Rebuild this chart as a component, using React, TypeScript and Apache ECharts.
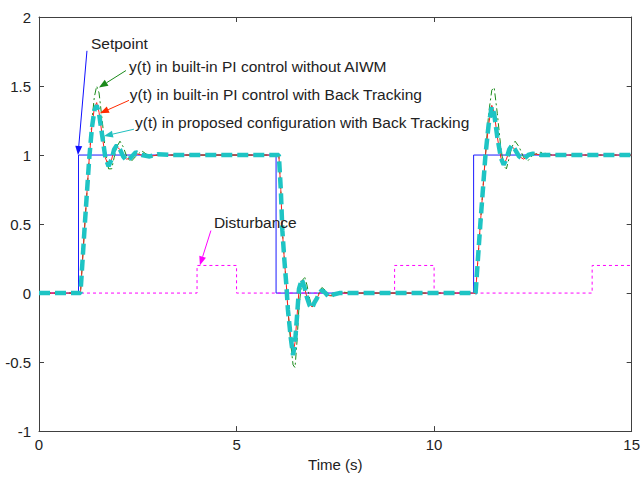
import React, { useEffect, useRef } from "react";
import * as echarts from "echarts";

// Reference signals
const setpointT = [0, 1, 1, 6, 6, 11, 11, 15];
const setpointY = [0, 0, 1, 1, 0, 0, 1, 1];

const disturbanceT = [0, 4, 4, 5, 5, 9, 9, 10, 10, 14, 14, 15];
const disturbanceY = [0, 0, 0.2, 0.2, 0, 0, 0.2, 0.2, 0, 0, 0.2, 0.2];

// Shared time grid for the three responses
const respT = [
  0, 1.05, 1.16, 1.27, 1.34, 1.4, 1.46, 1.52, 1.6, 1.68, 1.76, 1.84, 1.9, 1.97, 2.05, 2.13, 2.22, 2.32, 2.45,
  2.6, 2.8, 3.0, 3.4, 6.07, 6.12, 6.16, 6.21, 6.26, 6.3, 6.37, 6.43, 6.48, 6.53, 6.58, 6.65, 6.72, 6.78, 6.85,
  6.91, 6.97, 7.03, 7.1, 7.16, 7.25, 7.34, 7.45, 7.6, 7.9, 11.05, 11.17, 11.3, 11.38, 11.46, 11.52, 11.6, 11.69,
  11.76, 11.83, 11.9, 11.97, 12.05, 12.15, 12.27, 12.38, 12.5, 12.7, 13.0, 15,
];

// y(t) in built-in PI control without AIWM
const noAiwmY = [
  0, 0, 0.5, 0.97, 1.25, 1.42, 1.5, 1.45, 1.25, 1.03, 0.9, 0.9, 0.98, 1.06, 1.1, 1.06, 0.99, 0.95, 0.99,
  1.03, 0.99, 1.0, 1.0, 1.0, 0.75, 0.45, 0.24, 0.06, -0.12, -0.36, -0.52, -0.54, -0.35, -0.1, 0.08, 0.12, 0.06, -0.04,
  -0.1, -0.09, -0.04, 0.01, 0.04, 0.02, -0.02, -0.02, 0.01, 0, 0, 0.5, 1.0, 1.3, 1.47, 1.49, 1.3, 1.05,
  0.92, 0.9, 0.98, 1.06, 1.1, 1.06, 0.98, 0.96, 1.0, 1.02, 1.0, 1.0,
];

// y(t) in built-in PI control with Back Tracking
const backTrackY = [
  0, 0, 0.5, 0.97, 1.21, 1.34, 1.38, 1.31, 1.14, 0.98, 0.92, 0.97, 1.04, 1.06, 1.04, 0.99, 0.97, 0.98, 1.01,
  1.0, 0.99, 1.0, 1.0, 1.0, 0.75, 0.45, 0.24, 0.06, -0.12, -0.32, -0.43, -0.36, -0.17, 0.02, 0.09, 0.04, -0.03, -0.08,
  -0.1, -0.07, -0.04, 0.0, 0.02, 0.0, -0.02, -0.01, 0.0, 0, 0, 0.5, 1.0, 1.22, 1.36, 1.31, 1.13, 0.98,
  0.93, 0.97, 1.03, 1.06, 1.04, 0.99, 0.97, 1.0, 1.01, 1.0, 1.0, 1.0,
];

// y(t) in proposed configuration with Back Tracking
const proposedY = [
  0, 0, 0.5, 0.97, 1.2, 1.32, 1.36, 1.3, 1.14, 0.98, 0.92, 0.97, 1.04, 1.07, 1.04, 0.99, 0.96, 0.98, 1.02,
  1.0, 0.99, 1.005, 1.0, 1.0, 0.75, 0.45, 0.24, 0.06, -0.12, -0.32, -0.45, -0.36, -0.17, 0.03, 0.1, 0.04, -0.03, -0.09,
  -0.11, -0.07, -0.04, 0.0, 0.02, 0.0, -0.03, -0.01, 0.0, 0, 0, 0.5, 1.0, 1.22, 1.35, 1.3, 1.13, 0.98,
  0.93, 0.97, 1.04, 1.07, 1.04, 0.99, 0.97, 1.0, 1.01, 1.0, 1.0, 1.0,
];

const xTicks = { min: 0, max: 15, interval: 5 };
const yTicks = { min: -1, max: 2, interval: 0.5 };

const annotations = [
  { text: "Setpoint", color: "#1010ff", textAt: [1.315, 1.806], from: [1.214, 1.755], to: [0.987, 1.0] },
  { text: "y(t) in built-in PI control without AIWM", color: "#1a8a1a", textAt: [2.277, 1.64], from: [2.2, 1.612], to: [1.518, 1.489] },
  { text: "y(t) in built-in PI control with Back Tracking", color: "#ff2a00", textAt: [2.3, 1.439], from: [2.277, 1.396], to: [1.543, 1.302] },
  { text: "y(t) in proposed configuration with Back Tracking", color: "#20c0c0", textAt: [2.43, 1.237], from: [2.403, 1.187], to: [1.644, 1.137] },
  { text: "Disturbance", color: "#ff00ff", textAt: [4.427, 0.511], from: [4.351, 0.453], to: [4.073, 0.201] },
];

const FONT = '"Liberation Sans", Arial, sans-serif';
const AXIS = "#404040";

function zip(t: number[], y: number[]) {
  return t.map((v, i) => [v, y[i]]);
}

export default function App() {
  const ref = useRef<HTMLDivElement>(null);
  useEffect(() => {
    const chart = echarts.init(ref.current!, null, { renderer: "svg" });
    const axisCommon = {
      axisLine: { show: true, onZero: false, lineStyle: { color: AXIS, width: 1 } },
      axisTick: { show: true, inside: true, length: 5, lineStyle: { color: AXIS } },
      splitLine: { show: false },
    };
    chart.setOption({
      animation: false,
      backgroundColor: "#ffffff",
      grid: { left: 39, right: 9, top: 17, bottom: 40 },
      xAxis: [
        {
          type: "value", ...xTicks, position: "bottom", ...axisCommon,
          axisLabel: { color: "#222", fontSize: 15, fontFamily: FONT, margin: 6 },
          name: "Time (s)", nameLocation: "middle", nameGap: 25,
          nameTextStyle: { color: "#222", fontSize: 15, fontFamily: FONT },
        },
        { type: "value", ...xTicks, position: "top", ...axisCommon, axisLabel: { show: false } },
      ],
      yAxis: [
        {
          type: "value", ...yTicks, position: "left", ...axisCommon,
          axisLabel: { color: "#222", fontSize: 15, fontFamily: FONT, margin: 8 },
        },
        { type: "value", ...yTicks, position: "right", ...axisCommon, axisLabel: { show: false } },
      ],
      series: [
        {
          name: "Setpoint", type: "line", data: zip(setpointT, setpointY), showSymbol: false,
          lineStyle: { color: "#1a1aff", width: 1 }, z: 2,
        },
        {
          name: "Disturbance", type: "line", data: zip(disturbanceT, disturbanceY), showSymbol: false,
          lineStyle: { color: "#ff00ff", width: 1, type: [3, 3] }, z: 2,
        },
        {
          name: "without AIWM", type: "line", data: zip(respT, noAiwmY), showSymbol: false,
          lineStyle: { color: "#1a8a1a", width: 1, type: [7, 3, 2, 3] }, z: 3,
        },
        {
          name: "Back Tracking", type: "line", data: zip(respT, backTrackY), showSymbol: false,
          lineStyle: { color: "#ff2020", width: 1 }, z: 4,
        },
        {
          name: "Proposed", type: "line", data: zip(respT, proposedY), showSymbol: false,
          lineStyle: { color: "#1ec4c4", width: 4.5, type: [11, 5] }, z: 5,
        },
      ],
    });

    const px = (p: number[]) => chart.convertToPixel({ xAxisIndex: 0, yAxisIndex: 0 }, p) as number[];
    const graphics: any[] = [];
    annotations.forEach((a) => {
      const [x1, y1] = px(a.from);
      const [x2, y2] = px(a.to);
      const dx = x2 - x1, dy = y2 - y1;
      const L = Math.hypot(dx, dy);
      const ux = dx / L, uy = dy / L;
      const hl = 9, hw = 3.5;
      const bx = x2 - ux * hl, by = y2 - uy * hl;
      graphics.push({ type: "line", z: 10, shape: { x1, y1, x2: bx, y2: by }, style: { stroke: a.color, lineWidth: 1 } });
      graphics.push({
        type: "polygon", z: 10,
        shape: { points: [[x2, y2], [bx - uy * hw, by + ux * hw], [bx + uy * hw, by - ux * hw]] },
        style: { fill: a.color },
      });
      const [tx, ty] = px(a.textAt);
      graphics.push({
        type: "text", z: 10, x: tx, y: ty,
        style: { text: a.text, fill: "#222", fontSize: 15.5, fontFamily: FONT, verticalAlign: "middle", align: "left" },
      });
    });
    chart.setOption({ graphic: graphics });
    return () => chart.dispose();
  }, []);
  return <div ref={ref} style={{ position: "absolute", left: 0, top: 0, width: 643, height: 477 }} />;
}
